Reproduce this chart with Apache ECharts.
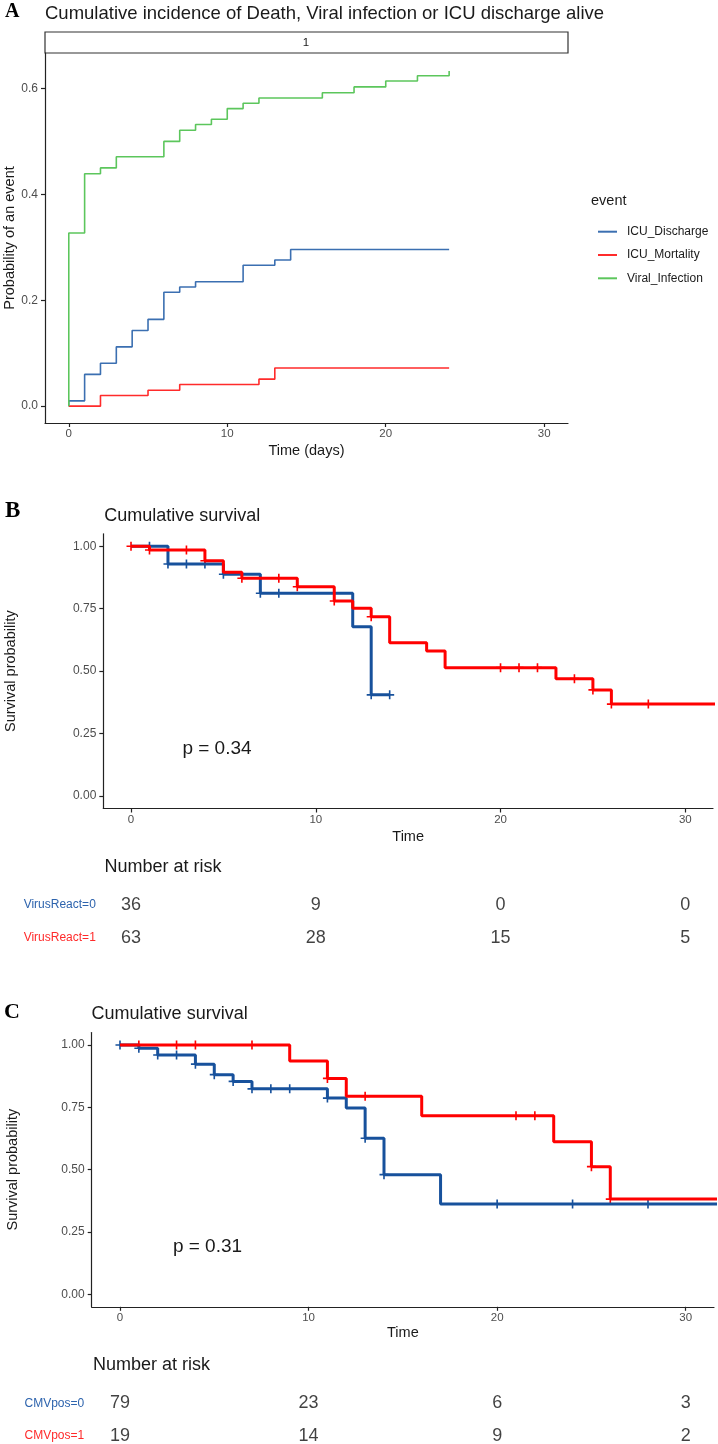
<!DOCTYPE html>
<html lang="en">
<head>
<meta charset="utf-8">
<script src="https://cdn.jsdelivr.net/npm/echarts@6/dist/echarts.min.js"></script>
</head>
<body style="margin:0">
<div id="container" style="width:718px;height:1444px"></div>
<script>
// ---- panel A: cumulative incidence (step curves) ----
var events = ['ICU_Discharge', 'ICU_Mortality', 'Viral_Infection'];
var dischargeT = [0, 0, 1, 2, 3, 4, 5, 6, 7, 8, 11, 13, 14, 24];
var dischargeV = [0, 0.01, 0.06, 0.081, 0.112, 0.143, 0.164, 0.215, 0.225, 0.235, 0.266, 0.276, 0.296, 0.296];
var mortalityT = [0, 2, 5, 7, 12, 13, 24];
var mortalityV = [0, 0.02, 0.03, 0.041, 0.051, 0.072, 0.072];
var viralT = [0, 0, 1, 2, 3, 6, 7, 8, 9, 10, 11, 12, 16, 18, 20, 22, 24];
var viralV = [0, 0.327, 0.439, 0.45, 0.471, 0.5, 0.521, 0.532, 0.542, 0.562, 0.572, 0.582, 0.592, 0.603, 0.614, 0.624, 0.633];

// ---- panel B: survival by VirusReact ----
var groupsB = ['VirusReact=0', 'VirusReact=1'];
var b0T = [0, 2, 5, 7, 12, 13, 14];
var b0V = [1, 0.929, 0.888, 0.812, 0.678, 0.405, 0.405];
var b0Cens = [1, 2, 3, 4, 5, 7, 8, 13, 14];
var b1T = [0, 1, 4, 5, 6, 9, 11, 12, 13, 14, 16, 17, 23, 25, 26, 33];
var b1V = [1, 0.985, 0.942, 0.896, 0.872, 0.838, 0.781, 0.752, 0.718, 0.614, 0.581, 0.514, 0.47, 0.425, 0.368, 0.368];
var b1Cens = [0, 1, 3, 4, 6, 8, 9, 11, 13, 20, 21, 22, 24, 25, 26, 28];

// ---- panel C: survival by CMVpos ----
var groupsC = ['CMVpos=0', 'CMVpos=1'];
var c0T = [0, 1, 2, 4, 5, 6, 7, 11, 12, 13, 14, 17, 33];
var c0V = [1, 0.987, 0.96, 0.923, 0.881, 0.854, 0.824, 0.787, 0.747, 0.626, 0.48, 0.362, 0.362];
var c0Cens = [0, 1, 2, 3, 4, 5, 6, 7, 8, 9, 11, 13, 14, 20, 24, 28];
var c1T = [0, 9, 11, 12, 16, 23, 25, 26, 33];
var c1V = [1, 0.936, 0.866, 0.794, 0.716, 0.612, 0.512, 0.382, 0.382];
var c1Cens = [1, 3, 4, 7, 11, 13, 21, 22, 25, 26];

// ---- numbers at risk ----
var riskTimes = [0, 10, 20, 30];
var riskB0 = [36, 9, 0, 0];
var riskB1 = [63, 28, 15, 5];
var riskC0 = [79, 23, 6, 3];
var riskC1 = [19, 14, 9, 2];

var xTicks = [0, 10, 20, 30];
var yTicksA = [0, 0.2, 0.4, 0.6];
var yTicksKM = [0, 0.25, 0.5, 0.75, 1];

var FONT = 'Liberation Sans';
var BLUE = '#17519c', RED = '#ff0000';
var plus = 'path://M4.1,0H5.9V4.1H10V5.9H5.9V10H4.1V5.9H0V4.1H4.1Z';

function pairs(t, v) {
    return t.map(function (x, i) { return [x, v[i]]; });
}
function survAt(t, v, x) {
    var s = v[0];
    for (var i = 0; i < t.length; i++) if (t[i] <= x) s = v[i];
    return s;
}
function censPts(t, v, c) {
    return c.map(function (x) { return [x, survAt(t, v, x)]; });
}
function riskPts(groups, rows) {
    var out = [];
    rows.forEach(function (r, gi) {
        r.forEach(function (n, i) { out.push([riskTimes[i], groups[gi], n]); });
    });
    return out;
}

var axisLineStyle = { color: '#222', width: 1.2 };
function timeAxis(grid, name, gap) {
    return {
        type: 'value', gridIndex: grid, min: -1.5, max: 31.5,
        name: name, nameLocation: 'middle', nameGap: gap, nameMoveOverlap: false,
        nameTextStyle: { fontFamily: FONT, fontSize: 14.5, color: '#1a1a1a' },
        axisLine: { show: true, onZero: false, lineStyle: axisLineStyle },
        axisTick: { show: true, length: 4, customValues: xTicks, lineStyle: axisLineStyle },
        axisLabel: { customValues: xTicks, margin: 5, fontFamily: FONT, fontSize: 11.5, color: '#4d4d4d' },
        splitLine: { show: false }
    };
}
function probAxis(grid, min, max, ticks, digits, name, gap) {
    return {
        type: 'value', gridIndex: grid, min: min, max: max,
        name: name, nameLocation: 'middle', nameGap: gap, nameRotate: 90, nameMoveOverlap: false,
        nameTextStyle: { fontFamily: FONT, fontSize: 14.5, color: '#1a1a1a' },
        axisLine: { show: true, onZero: false, lineStyle: axisLineStyle },
        axisTick: { show: true, length: 4, customValues: ticks, lineStyle: axisLineStyle },
        axisLabel: {
            customValues: ticks, margin: 7, fontFamily: FONT, fontSize: 12, color: '#4d4d4d',
            formatter: function (v) { return v.toFixed(digits); }
        },
        splitLine: { show: false }
    };
}
function riskAxis(grid, groups, colors) {
    return {
        type: 'category', gridIndex: grid, data: groups, inverse: true,
        axisLine: { show: false, onZero: false }, axisTick: { show: false }, splitLine: { show: false },
        axisLabel: {
            margin: 7.5, fontFamily: FONT, fontSize: 12,
            color: function (v, i) { return colors[i]; }
        }
    };
}
function stepSeries(name, x, y, t, v, color, width) {
    return {
        name: name, type: 'line', step: 'end', xAxisIndex: x, yAxisIndex: y,
        data: pairs(t, v), showSymbol: false, symbol: 'none',
        lineStyle: { color: color, width: width }, itemStyle: { color: color }
    };
}
function censSeries(x, y, t, v, c, color) {
    return {
        type: 'scatter', xAxisIndex: x, yAxisIndex: y, data: censPts(t, v, c),
        symbol: plus, symbolSize: 9, itemStyle: { color: color, opacity: 1 }
    };
}
function riskSeries(x, y, groups, rows) {
    return {
        type: 'scatter', xAxisIndex: x, yAxisIndex: y, data: riskPts(groups, rows),
        symbolSize: 1, itemStyle: { color: 'transparent' },
        label: {
            show: true, position: 'inside', fontFamily: FONT, fontSize: 18, color: '#111',
            formatter: function (p) { return String(p.value[2]); }
        }
    };
}
function txt(x, y, s, size, opts) {
    opts = opts || {};
    return {
        type: 'text', x: x, y: y, silent: true,
        style: {
            text: s, fontSize: size, fontFamily: opts.family || FONT, fontWeight: opts.weight || 'normal',
            fill: opts.color || '#1a1a1a', align: opts.align || 'left', verticalAlign: 'middle'
        }
    };
}

var dom = document.getElementById('container');
var myChart = echarts.init(dom, null, { renderer: 'canvas' });

var option = {
    animation: false,
    backgroundColor: '#fff',
    grid: [
        { left: 45, top: 53, width: 523, height: 370, outerBoundsMode: 'none' },
        { left: 103.3, top: 533.8, width: 609.7, height: 274.7, outerBoundsMode: 'none' },
        { left: 91.7, top: 1032.5, width: 622.3, height: 274.3, outerBoundsMode: 'none' },
        { left: 103.3, top: 888.7, width: 609.7, height: 65.4, outerBoundsMode: 'none' },
        { left: 91.7, top: 1387.1, width: 622.3, height: 65.4, outerBoundsMode: 'none' }
    ],
    xAxis: [
        timeAxis(0, 'Time (days)', 20),
        timeAxis(1, 'Time', 20.5),
        timeAxis(2, 'Time', 19),
        { type: 'value', gridIndex: 3, min: -1.5, max: 31.5, show: false },
        { type: 'value', gridIndex: 4, min: -1.5, max: 31.5, show: false }
    ],
    yAxis: [
        probAxis(0, -0.0318, 0.667, yTicksA, 1, 'Probability of an event', 28),
        probAxis(1, -0.05, 1.05, yTicksKM, 2, 'Survival probability', 85),
        probAxis(2, -0.05, 1.05, yTicksKM, 2, 'Survival probability', 71),
        riskAxis(3, groupsB, ['#2d63ad', '#ff2a2a']),
        riskAxis(4, groupsC, ['#2d63ad', '#ff2a2a'])
    ],
    legend: {
        data: events, orient: 'vertical', left: 593, top: 219.7,
        icon: 'rect', itemWidth: 19, itemHeight: 2, itemGap: 9.3,
        textStyle: { fontFamily: FONT, fontSize: 12, color: '#1a1a1a', lineHeight: 14, padding: [0, 0, 0, 5] }
    },
    series: [
        stepSeries(events[0], 0, 0, dischargeT, dischargeV, '#3b6fb1', 1.6),
        stepSeries(events[1], 0, 0, mortalityT, mortalityV, '#ff2b2b', 1.6),
        stepSeries(events[2], 0, 0, viralT, viralV, '#5cc65c', 1.6),

        stepSeries(groupsB[0], 1, 1, b0T, b0V, BLUE, 3),
        censSeries(1, 1, b0T, b0V, b0Cens, BLUE),
        stepSeries(groupsB[1], 1, 1, b1T, b1V, RED, 3),
        censSeries(1, 1, b1T, b1V, b1Cens, RED),

        stepSeries(groupsC[0], 2, 2, c0T, c0V, BLUE, 3),
        censSeries(2, 2, c0T, c0V, c0Cens, BLUE),
        stepSeries(groupsC[1], 2, 2, c1T, c1V, RED, 3),
        censSeries(2, 2, c1T, c1V, c1Cens, RED),

        riskSeries(3, 3, groupsB, [riskB0, riskB1]),
        riskSeries(4, 4, groupsC, [riskC0, riskC1])
    ],
    graphic: [
        { type: 'rect', silent: true, shape: { x: 45, y: 32, width: 523, height: 21 },
          style: { fill: '#fff', stroke: '#333', lineWidth: 1.2 } },
        txt(306, 42.7, '1', 11.5, { align: 'center' }),
        txt(45, 13.5, 'Cumulative incidence of Death, Viral infection or ICU discharge alive', 18.5),
        txt(591, 200.5, 'event', 14.5),
        txt(5, 11.5, 'A', 20, { family: 'Liberation Serif', weight: 'bold', color: '#000' }),

        txt(5, 511.5, 'B', 23, { family: 'Liberation Serif', weight: 'bold', color: '#000' }),
        txt(104.3, 515.7, 'Cumulative survival', 18),
        txt(217, 748.6, 'p = 0.34', 19, { align: 'center' }),
        txt(104.4, 866.7, 'Number at risk', 18),

        txt(4, 1012.3, 'C', 22, { family: 'Liberation Serif', weight: 'bold', color: '#000' }),
        txt(91.6, 1014, 'Cumulative survival', 18),
        txt(207.5, 1247, 'p = 0.31', 19, { align: 'center' }),
        txt(93, 1365, 'Number at risk', 18)
    ]
};

myChart.setOption(option);
</script>
</body>
</html>
